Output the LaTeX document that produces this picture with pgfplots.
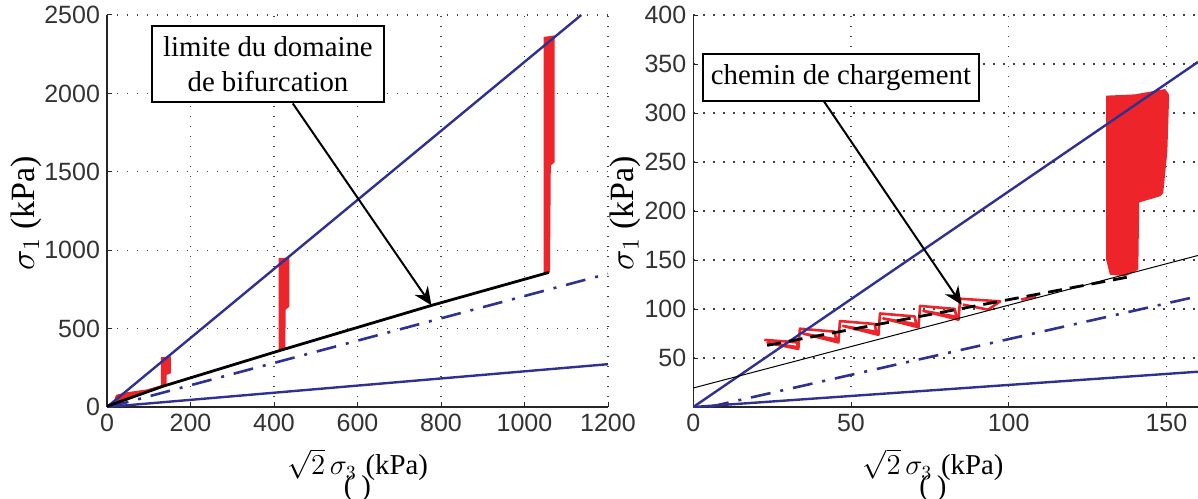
\documentclass[border=0pt]{standalone}
\usepackage{pgfplots}
\pgfplotsset{compat=1.18}
\usepackage{fontspec}
\setmainfont{Liberation Serif}
\setsansfont{Liberation Sans}
\usetikzlibrary{arrows.meta}
\definecolor{mblue}{RGB}{46,49,146}
\definecolor{mred}{RGB}{237,36,42}
\pgfplotsset{
 mystyle/.style={
  scale only axis, axis x line=bottom, axis y line=left, clip mode=individual,
  axis line style={-, line width=0.6pt, black!85},
  height=196pt, grid=major,
  grid style={black!75, line width=0.55pt, dash pattern=on 0.6pt off 4.4pt},
  tick align=inside, major tick length=2.5pt, tick style={black!85, line width=0.5pt},
  ticklabel style={font=\sffamily\fontsize{12.5}{14}\selectfont, text=black!80},
  /pgf/number format/assume math mode=true,
  /pgf/number format/1000 sep={},
  xlabel style={font=\fontsize{14.4}{17}\selectfont},
  ylabel style={font=\fontsize{17}{19}\selectfont},
  anchor=south west,
 }
}
\begin{document}
\begin{tikzpicture}
% ---------------- left axis ----------------
\begin{axis}[mystyle, at={(53.5pt,45.5pt)}, width=250.5pt,
 xmin=0, xmax=1200, ymin=0, ymax=2500,
 xtick={0,200,...,1200}, ytick={0,500,...,2500},
 xlabel={$\sqrt{2}\,\sigma_3$\hspace{0.3em}(kPa)}, ylabel={$\sigma_1$ (kPa)},
 xlabel style={at={(axis description cs:0.5,-0.148)}, anchor=center},
 ylabel style={at={(axis description cs:-0.162,0.495)}, anchor=center}]
% red loading paths
\addplot[fill=mred, draw=none] coordinates {(19,22) (131,128) (131,140) (95,112) (50,95) (22,78) (19,60)} -- cycle;
\addplot[fill=mred, draw=none] coordinates {(129,128) (143,135) (143,205) (153,215) (153,323) (129,318)} -- cycle;
\addplot[fill=mred, draw=none] coordinates {(411,360) (427,368) (428,620) (437,640) (437,953) (411,950)} -- cycle;
\addplot[fill=mred, draw=none] coordinates {(1046,850) (1061,858) (1063,1540) (1072,1560) (1072,2370) (1046,2360)} -- cycle;
% blue lines
\addplot[mblue, line width=1.2pt] coordinates {(0,0) (1136,2500)};
\addplot[mblue, line width=1.2pt] coordinates {(0,0) (1200,273)};
\addplot[mblue, line width=1.3pt, dash pattern=on 10pt off 5pt on 1.5pt off 5pt] coordinates {(5,0) (1200,850)};
% bifurcation limit
\addplot[black, line width=1.4pt] coordinates {(0,5) (135,133) (420,365) (780,650) (1058,858)};
\draw[black, line width=1pt, -{Stealth[length=9pt,width=8pt,inset=3pt]}] (axis cs:445,1936) -- (axis cs:777,649);
\node[draw=black, line width=0.8pt, fill=white, minimum width=116pt, minimum height=38pt,
 align=center, inner sep=0pt, font=\fontsize{14.4}{17.5}\selectfont] at (axis cs:385.6,2187)
 {limite du domaine\\de bifurcation};
\node[font=\fontsize{14.4}{17}\selectfont] at (axis description cs:0.5,-0.207) {(\hspace{4pt})};
\end{axis}
% ---------------- right axis ----------------
\begin{axis}[mystyle, at={(346.65pt,45.5pt)}, width=252.3pt,
 xmin=0, xmax=160, ymin=0, ymax=400,
 xtick={0,50,100,150}, ytick={50,100,...,400},
 xlabel={$\sqrt{2}\,\sigma_3$\hspace{0.3em}(kPa)}, ylabel={$\sigma_1$ (kPa)},
 xlabel style={at={(axis description cs:0.475,-0.148)}, anchor=center},
 ylabel style={at={(axis description cs:-0.135,0.495)}, anchor=center}]
% red block
\addplot[fill=mred, draw=none] coordinates {(130.9,317.7) (140,319) (149.6,324.5) (150.9,318.7) (150.3,260) (149,218.3) (148,215) (141.4,208.8) (141.1,140.1) (136.9,133.3) (132.1,135) (130.9,150.3)} -- cycle;
% red cyclic loading path
\addplot[mred, line width=1.3pt, line join=round] coordinates {
 (22.5,68.5) (32.8,66) (33.3,61) (23.5,65.5) (33.3,59.3)
 (33.8,79.9) (44.8,76.9) (45.3,68.9) (34.8,74.9) (46.0,65.9)
 (46.5,87.7) (57.5,84.7) (58.0,76.7) (47.5,82.7) (58.7,73.7)
 (59.2,95.4) (70.2,92.4) (70.7,84.4) (60.2,90.4) (71.4,81.4)
 (71.9,103.1) (82.9,100.1) (83.4,92.1) (72.9,98.1) (84.1,89.1)
 (84.6,110.5) (97.3,107.8) (93.5,99.3) (85.5,104.5)};
\addplot[mred, line width=1.4pt] coordinates {(104,109.6) (108.7,112.9)};
% blue lines
\addplot[mblue, line width=1.2pt] coordinates {(0,0) (160,352)};
\addplot[mblue, line width=1.2pt] coordinates {(0,0) (160,36)};
\addplot[mblue, line width=1.3pt, dash pattern=on 10pt off 5pt on 1.5pt off 5pt] coordinates {(5,0) (160,113)};
% black lines
\addplot[black, line width=0.5pt] coordinates {(0,19.4) (160,154.6)};
\addplot[black, line width=1.4pt, dash pattern=on 7pt off 4pt] coordinates {(23.4,62.9) (50,79.1) (80,97.4) (110,115.6) (137.5,132.4)};
\draw[black, line width=1pt, -{Stealth[length=9pt,width=8pt,inset=3pt]}] (axis cs:41.4,312) -- (axis cs:85.1,104.4);
\node[draw=black, line width=0.8pt, fill=white, minimum width=138pt, minimum height=23.5pt,
 inner sep=0pt, font=\fontsize{14.4}{17.5}\selectfont] at (axis cs:46.8,336.5) {chemin de chargement};
\node[font=\fontsize{14.4}{17}\selectfont] at (axis description cs:0.475,-0.207) {(\hspace{4pt})};
\end{axis}
\pgfresetboundingbox
\path (0,0) rectangle (599pt,249pt);
\end{tikzpicture}
\end{document}
